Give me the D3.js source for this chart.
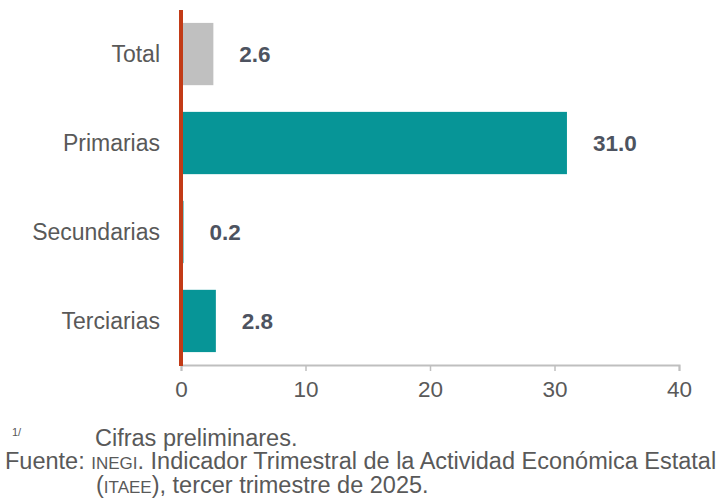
<!DOCTYPE html>
<html><head><meta charset="utf-8">
<script src="https://cdn.jsdelivr.net/npm/d3@7"></script>
<style>body{margin:0;background:#fff}svg{display:block}</style>
</head><body>
<script>
const categories = ["Total", "Primarias", "Secundarias", "Terciarias"];
const values = [2.6, 31.0, 0.2, 2.8];
const valueLabels = ["2.6", "31.0", "0.2", "2.8"];
const xTicks = [0, 10, 20, 30, 40];

const W = 719, H = 500;
const svg = d3.select("body").append("svg").attr("width", W).attr("height", H);
const font = "'Liberation Sans', Arial, sans-serif";
const textColor = "#595959";

const x = d3.scaleLinear().domain([0, 40]).range([181, 679]);
const y = d3.scaleBand().domain(categories).range([10, 365]).paddingInner(0.3).paddingOuter(0.145);

// bars
svg.selectAll("rect.bar").data(categories).enter().append("rect")
  .attr("x", x(0))
  .attr("y", d => y(d))
  .attr("width", (d, i) => x(values[i]) - x(0))
  .attr("height", y.bandwidth())
  .attr("fill", (d, i) => i === 0 ? "#C0C0C0" : "#079597");

// x axis
const xAxis = d3.axisBottom(x).tickValues(xTicks).tickSize(6).tickPadding(10);
const gx = svg.append("g").attr("transform", "translate(0,365)").call(xAxis);
gx.select(".domain").attr("stroke", "#BFBFBF").attr("stroke-width", 2);
gx.selectAll(".tick line").attr("stroke", "#BFBFBF").attr("stroke-width", 1.5);
gx.selectAll(".tick text").attr("fill", textColor).style("font-family", font).style("font-size", "22.5px");

// red vertical axis
svg.append("line").attr("x1", x(0)).attr("x2", x(0)).attr("y1", 10).attr("y2", 366)
  .attr("stroke", "#C23B17").attr("stroke-width", 4);

// category labels
svg.selectAll("text.cat").data(categories).enter().append("text")
  .attr("x", 160).attr("y", d => y(d) + y.bandwidth() / 2)
  .attr("dy", "0.35em").attr("text-anchor", "end")
  .attr("fill", textColor).style("font-family", font).style("font-size", "23px")
  .text(d => d);

// value labels
svg.selectAll("text.val").data(categories).enter().append("text")
  .attr("x", (d, i) => x(values[i]) + 26).attr("y", d => y(d) + y.bandwidth() / 2)
  .attr("dy", "0.35em").attr("text-anchor", "start")
  .attr("fill", "#4D5360").style("font-family", font).style("font-size", "22.5px").style("font-weight", "bold")
  .text((d, i) => valueLabels[i]);

// footnotes
const fn = svg.append("g").attr("fill", textColor).style("font-family", font);
fn.append("text").attr("x", 12).attr("y", 436).style("font-size", "11px").text("1/");
fn.append("text").attr("x", 95).attr("y", 446).style("font-size", "23.5px").text("Cifras preliminares.");
const t2 = fn.append("text").attr("x", 5).attr("y", 469).style("font-size", "23.5px");
t2.append("tspan").text("Fuente: ");
t2.append("tspan").style("font-size", "17px").text("INEGI");
t2.append("tspan").text(". Indicador Trimestral de la Actividad Económica Estatal");
const t3 = fn.append("text").attr("x", 96).attr("y", 493).style("font-size", "23.5px");
t3.append("tspan").text("(");
t3.append("tspan").style("font-size", "17px").text("ITAEE");
t3.append("tspan").text("), tercer trimestre de 2025.");
</script>
</body></html>
